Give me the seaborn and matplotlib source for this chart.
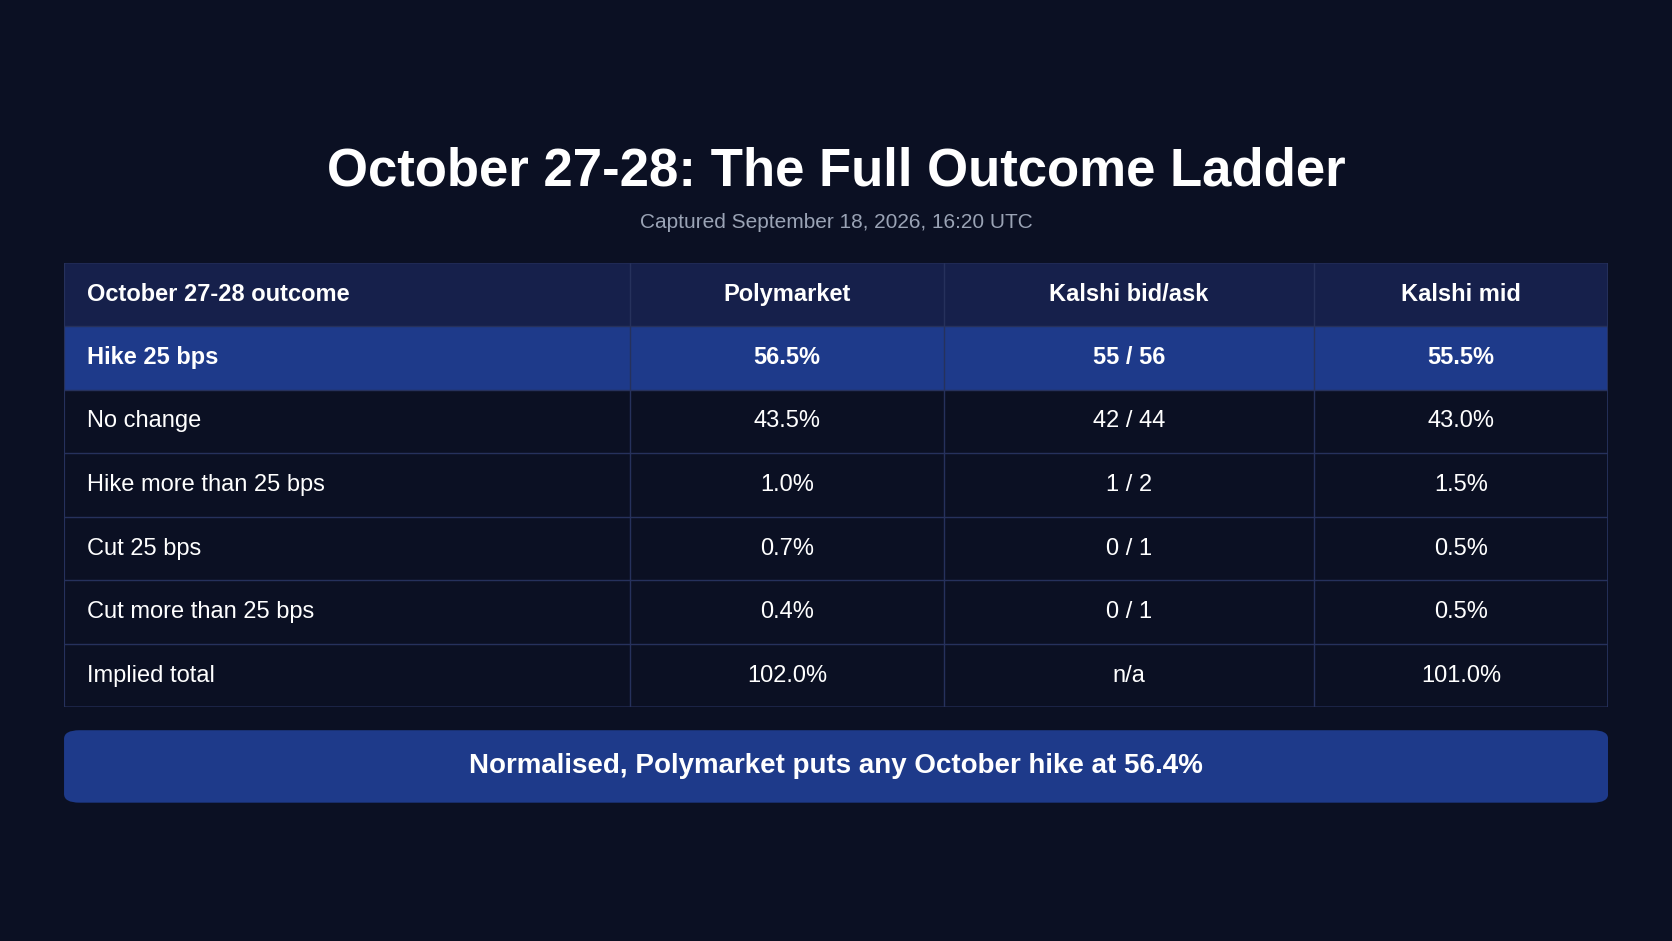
import matplotlib
matplotlib.use("Agg")
import matplotlib.pyplot as plt
import numpy as np
import seaborn as sns
from matplotlib.colors import ListedColormap
from matplotlib.patches import FancyBboxPatch

sns.set_style("white")
plt.rcParams['font.family'] = ['Liberation Sans', 'DejaVu Sans']

BG = '#0b1023'
HEADER = '#16204b'
HILITE = '#1e3a8a'
ROW = '#0b1023'
GRID = '#26315c'

title = 'October 27-28: The Full Outcome Ladder'
subtitle = 'Captured September 18, 2026, 16:20 UTC'
columns = ['October 27-28 outcome', 'Polymarket', 'Kalshi bid/ask', 'Kalshi mid']
outcomes = ['Hike 25 bps', 'No change', 'Hike more than 25 bps', 'Cut 25 bps',
            'Cut more than 25 bps', 'Implied total']
polymarket = ['56.5%', '43.5%', '1.0%', '0.7%', '0.4%', '102.0%']
kalshi_bid_ask = ['55 / 56', '42 / 44', '1 / 2', '0 / 1', '0 / 1', 'n/a']
kalshi_mid = ['55.5%', '43.0%', '1.5%', '0.5%', '0.5%', '101.0%']
highlight_row = 0
banner = 'Normalised, Polymarket puts any October hike at 56.4%'

# relative column widths (sub-cells per column)
col_units = [531, 294, 347, 276]
edges = np.concatenate([[0], np.cumsum(col_units)])
n_rows = len(outcomes) + 1

# row style codes: 0 header, 1 highlight, 2 normal
codes = np.full((n_rows, edges[-1]), 2)
codes[0, :] = 0
codes[highlight_row + 1, :] = 1

fig = plt.figure(figsize=(16.72, 9.41), dpi=100, facecolor=BG)
ax = fig.add_axes([0.0383, 0.2482, 0.9235, 0.4728])
sns.heatmap(codes, cmap=ListedColormap([HEADER, HILITE, ROW]), vmin=0, vmax=2,
            cbar=False, xticklabels=False, yticklabels=False, ax=ax)
for e in edges[1:-1]:
    ax.axvline(e, color=GRID, lw=1)
for r in range(1, n_rows):
    ax.axhline(r, color=GRID, lw=1)
ax.add_patch(FancyBboxPatch((0, 0), edges[-1], n_rows, boxstyle='round,pad=0,rounding_size=0.15',
                            fill=False, ec=GRID, lw=1.5, mutation_aspect=1 / 40))

rows = [columns] + [[o, p, k, m] for o, p, k, m in zip(outcomes, polymarket, kalshi_bid_ask, kalshi_mid)]
for r, row in enumerate(rows):
    bold = r == 0 or r == highlight_row + 1
    for c, txt in enumerate(row):
        if c == 0:
            x, ha = 22, 'left'
        else:
            x, ha = (edges[c] + edges[c + 1]) / 2, 'center'
        ax.text(x, r + 0.5, txt, ha=ha, va='center', color='white', fontsize=17,
                fontweight='bold' if bold else 'normal')

fig.text(0.5, 0.818, title, ha='center', va='center', color='white', fontsize=38, fontweight='bold')
fig.text(0.5, 0.764, subtitle, ha='center', va='center', color='#9aa3b5', fontsize=15)

bax = fig.add_axes([0.0383, 0.147, 0.9235, 0.077])
bax.set_axis_off()
bax.add_patch(FancyBboxPatch((0, 0), 1, 1, boxstyle='round,pad=0,rounding_size=0.01',
                             fc=HILITE, ec='none', transform=bax.transAxes, mutation_aspect=12))
bax.text(0.5, 0.5, banner, ha='center', va='center', color='white', fontsize=20,
         fontweight='bold', transform=bax.transAxes)

fig.savefig('out.png', dpi=100, facecolor=BG)
